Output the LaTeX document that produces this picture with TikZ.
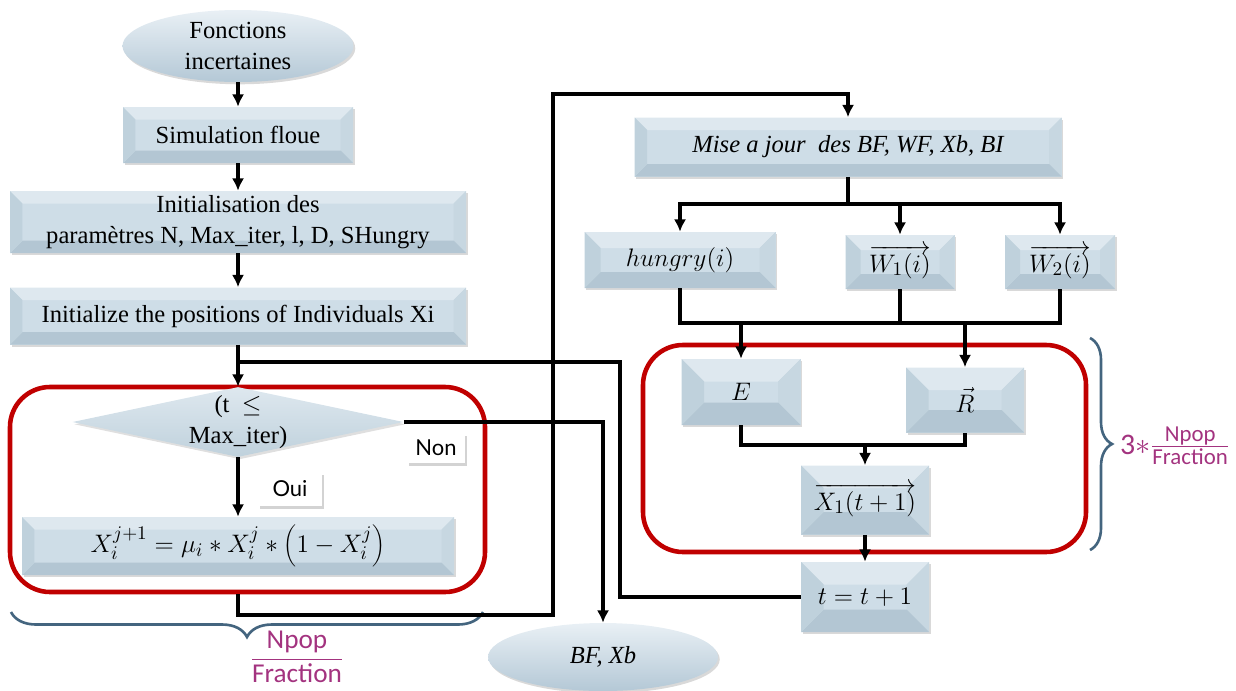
\documentclass[tikz,border=0pt]{standalone}
\usepackage{fontspec}
\setmainfont{Liberation Serif}
\newfontfamily\calibfont{Carlito}
\newfontfamily\labfont{Lato}
\usetikzlibrary{shapes.geometric,shadows,arrows.meta,decorations.pathreplacing}

\definecolor{boxmid}{HTML}{CEDDE7}
\definecolor{boxtop}{HTML}{DEE8EF}
\definecolor{boxleft}{HTML}{BFD1DC}
\definecolor{boxright}{HTML}{C7D7E1}
\definecolor{boxbot}{HTML}{B3C6D3}
\definecolor{ellTop}{HTML}{E9F0F5}
\definecolor{ellBot}{HTML}{B4C8D6}
\definecolor{frameRed}{HTML}{C00000}
\definecolor{braceBlue}{HTML}{44657F}
\definecolor{labPurple}{HTML}{A3337F}

\tikzset{
  bevel size/.initial=0.25cm,
  sz/.style 2 args={minimum width=#1*0.02cm, minimum height=#2*0.02cm},
  bevbox/.style={rectangle, inner sep=1pt, fill=boxmid, align=center,
    drop shadow={shadow xshift=1pt, shadow yshift=-1.3pt, opacity=0.3},
    path picture={
      \def\bv{\pgfkeysvalueof{/tikz/bevel size}}
      \path (path picture bounding box.north west) coordinate (q1)
            (path picture bounding box.north east) coordinate (q2)
            (path picture bounding box.south east) coordinate (q3)
            (path picture bounding box.south west) coordinate (q4)
            ([xshift=\bv,yshift=-\bv]q1) coordinate (p1)
            ([xshift=-\bv,yshift=-\bv]q2) coordinate (p2)
            ([xshift=-\bv,yshift=\bv]q3) coordinate (p3)
            ([xshift=\bv,yshift=\bv]q4) coordinate (p4);
      \fill[boxtop] (q1)--(q2)--(p2)--(p1)--cycle;
      \fill[boxright] (q2)--(q3)--(p3)--(p2)--cycle;
      \fill[boxbot] (q3)--(q4)--(p4)--(p3)--cycle;
      \fill[boxleft] (q4)--(q1)--(p1)--(p4)--cycle;
    }},
  mathbox/.style={bevbox, font=\fontsize{15}{18}\selectfont},
  oval/.style={ellipse, inner sep=0pt, align=center, top color=ellTop, bottom color=ellBot,
    drop shadow={shadow xshift=1pt, shadow yshift=-1.3pt, opacity=0.3}},
  tag/.style={fill=white, inner sep=2pt, font=\labfont\fontsize{12.5}{14}\selectfont,
    drop shadow={shadow xshift=1.2pt, shadow yshift=-1.5pt, opacity=0.35}},
  loopframe/.style={draw=frameRed, line width=2.6pt, rounded corners=0.8cm},
  ln/.style={draw=black, line width=1.9pt},
  arr/.style={ln, -{Latex[length=7pt,width=7pt]}},
  brc/.style={draw=braceBlue, line width=1.5pt, decorate},
}

\begin{document}
\begin{tikzpicture}[x=0.02cm, y=-0.02cm, font=\fontsize{14}{18}\selectfont]
\useasboundingbox (0,0) rectangle (1236,690);

% loop frames
\node[loopframe, sz={475}{205}] (frameL) at (247.5,489.5) {};
\node[loopframe, sz={443}{207}] (frameR) at (864.5,448.5) {};

% left column
\node[oval, sz={231}{72}] (ell1) at (238,46) {Fonctions\\incertaines};
\node[bevbox, sz={230}{56}] (sim) at (238,135) {Simulation floue};
\node[bevbox, sz={456}{62}] (init) at (238,222) {Initialisation des\\param\`etres N, Max\_iter, l, D, SHungry};
\node[bevbox, sz={456}{57}] (pos) at (238,316) {Initialize the positions of Individuals Xi};
\node[diamond, shape aspect=4.7, sz={331}{70}, inner sep=0pt,
      top color=boxtop, bottom color=boxleft,
      drop shadow={shadow xshift=1pt, shadow yshift=-1.3pt, opacity=0.25},
      label={[name=dectext, align=center]center:{(t\ \ $\leq$\\Max\_iter)}}] (dec) at (238,422) {};
\node[tag, sz={58}{30}] (non) at (436,448) {Non};
\node[tag, sz={64}{34}] (oui) at (290,489) {Oui};
\node[mathbox, sz={432}{58}] (xbox) at (238,546)
  {$X_i^{j+1} = \mu_i * X_i^j * \left(1 - X_i^j\right)$};
\node[oval, sz={230}{68}] (bfx) at (603,657) {\itshape BF, Xb};

% right column
\node[bevbox, sz={427}{59}] (mise) at (848,147) {\itshape Mise a jour\ \ des BF, WF, Xb, BI};
\node[mathbox, bevel size=0.32cm, sz={191}{56}] (hung) at (680,260) {$hungry(i)$};
\node[mathbox, bevel size=0.3cm, sz={109}{54}] (w1) at (900,262) {$\overrightarrow{W_1(i)}$};
\node[mathbox, bevel size=0.3cm, sz={110}{54}] (w2) at (1060,262) {$\overrightarrow{W_2(i)}$};
\node[mathbox, bevel size=0.45cm, sz={119}{66}] (E) at (741,392) {$E$};
\node[mathbox, bevel size=0.45cm, sz={118}{65}] (R) at (965,400) {$\vec{R}$};
\node[mathbox, bevel size=0.45cm, sz={128}{69}] (x1) at (865,500) {$\overrightarrow{X_1(t+1)}$};
\node[mathbox, bevel size=0.45cm, sz={128}{70}] (tt) at (865,597) {$t=t+1$};

% braces and their labels
\draw[brc, decoration={brace, amplitude=0.5cm}] (483,612) -- (11,612);
\node[font=\calibfont\fontsize{15.5}{18}\selectfont, text=labPurple] (nfrac) at (297,657)
  {$\displaystyle\frac{\mbox{Npop}}{\mbox{Fraction}}$};
\draw[brc, decoration={brace, amplitude=0.44cm}] (1090,338) -- (1090,550);
\node[font=\calibfont\fontsize{17}{20}\selectfont, text=labPurple] (rfrac) at (1175,446)
  {$\mbox{3}{\ast}\frac{\mbox{\fontsize{13}{15}\selectfont Npop}}{\mbox{\fontsize{13}{15}\selectfont Fraction}}$};

% waypoints of the connectors
\coordinate (jn) at (238,362);
\coordinate (lp) at (620,362);
\coordinate (wpA) at (553,615);
\coordinate (wpB) at (553,94);
\coordinate (sp) at (848,204);
\coordinate (mg) at (741,323);
\coordinate (mg2) at (865,445);

% connectors, left column
\draw[arr] (ell1) -- (sim);
\draw[arr] (sim) -- (init);
\draw[arr] (init) -- (pos);
\draw[arr] (pos) -- (dec.north);
\draw[ln] (tt.west) -| (lp) -- (jn);
\draw[arr] (dec.east) -| (bfx.north);
\draw[arr] (dec.south) -- (xbox.north);
\draw[arr] (xbox.south |- frameL.south) |- (wpA) -- (wpB) -| (mise.north);

% connectors, right column
\draw[ln] (mise.south) -- (sp);
\draw[arr] (sp) -| (hung.north);
\draw[arr] (sp) -| (w1.north);
\draw[arr] (sp) -| (w2.north);
\draw[ln] (hung.south) |- (w2.south |- mg) -- (w2.south);
\draw[ln] (w1.south) -- (w1.south |- mg);
\draw[arr] (E.north |- mg) -- (E.north);
\draw[arr] (R.north |- mg) -- (R.north);
\draw[ln] (E.south) |- (mg2) -| (R.south);
\draw[arr] (mg2) -- (x1.north);
\draw[arr] (x1.south) -- (tt.north);
\end{tikzpicture}
\end{document}
